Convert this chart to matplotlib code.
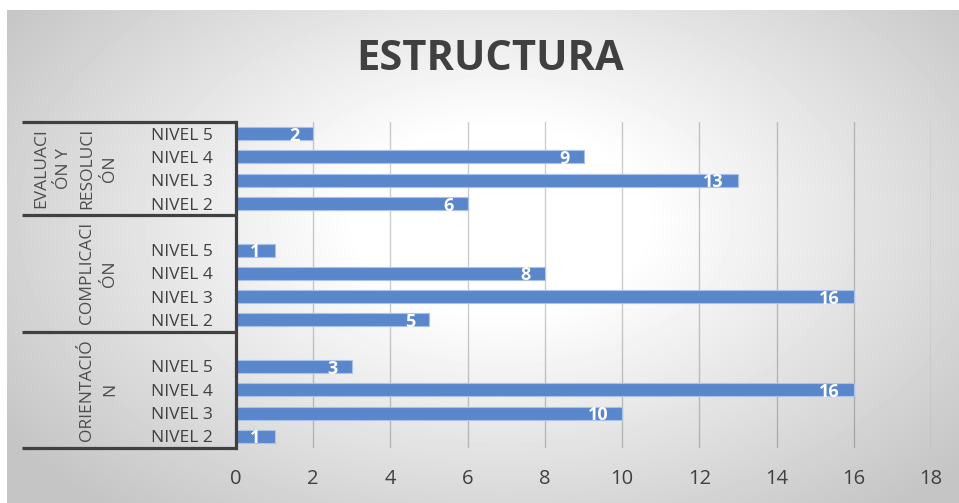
import numpy as np
import matplotlib
matplotlib.use("Agg")
import matplotlib.pyplot as plt
import matplotlib.transforms as mtransforms

plt.rcParams['font.family'] = ['Open Sans', 'DejaVu Sans']

# category rows from bottom to top, blank rows keep the gaps between groups
niveles = ["NIVEL 2", "NIVEL 3", "NIVEL 4", "NIVEL 5", "",
           "NIVEL 2", "NIVEL 3", "NIVEL 4", "NIVEL 5", "",
           "NIVEL 2", "NIVEL 3", "NIVEL 4", "NIVEL 5"]
orientacion = [1, 10, 16, 3]
complicacion = [5, 16, 8, 1]
evaluacion = [6, 13, 9, 2]
grupos = ["ORIENTACIÓ\nN", "COMPLICACI\nÓN", "EVALUACI\nÓN Y\nRESOLUCI\nÓN"]
grupo_filas = [(0, 5), (5, 10), (10, 14)]   # first row, row after last
xticks = [0, 2, 4, 6, 8, 10, 12, 14, 16, 18]

valores = orientacion + [None] + complicacion + [None] + evaluacion

W, H = 959, 503
fig = plt.figure(figsize=(W / 100, H / 100), dpi=100)
fig.patch.set_facecolor("white")

# radial grey background
bg = fig.add_axes([7 / W, 0, 1 - 7 / W, 1 - 10 / H])
bg.set_axis_off()
yy, xx = np.mgrid[10:H, 7:W]
r = np.sqrt(((xx - 500) / 480.0) ** 2 + ((yy - 220) / 300.0) ** 2)
dark = 58 * np.clip((r - 0.3) / 0.95, 0, 1)
shade = (255 - dark) / 255.0
bg.imshow(shade, cmap="gray", vmin=0, vmax=1, aspect="auto",
          extent=[0, 1, 0, 1], interpolation="bilinear")
bg.set_xlim(0, 1)
bg.set_ylim(0, 1)

ax = fig.add_axes([236 / W, 55 / H, (931 - 236) / W, 326 / H])
ax.patch.set_alpha(0)

filas = [i for i, v in enumerate(valores) if v is not None]
largos = [v for v in valores if v is not None]
ax.barh(filas, largos, height=0.56, color="#5a86cc",
        edgecolor="#a9c2ea", linewidth=0.8, zorder=3)

for y, v in zip(filas, largos):
    ax.annotate(str(v), xy=(v, y), xytext=(-10, -1.5), textcoords="offset points",
                ha="right", va="center", color="white", fontsize=13,
                fontweight="bold", zorder=4)

ax.set_xlim(0, 18)
ax.set_ylim(-0.5, len(niveles) - 0.5)
ax.set_xticks(xticks)
ax.set_xticklabels([str(t) for t in xticks])
ax.set_yticks(range(len(niveles)))
ax.set_yticklabels(niveles)
ax.tick_params(axis="x", length=0, pad=15, labelsize=14.5, labelcolor="#404040")
ax.tick_params(axis="y", length=0, pad=16.5, labelsize=12.5, labelcolor="#404040")
ax.xaxis.grid(True, color="black", alpha=0.2, linewidth=1, zorder=0)
ax.set_axisbelow(True)

for s in ["top", "right", "bottom"]:
    ax.spines[s].set_visible(False)
ax.spines["left"].set_color("#404040")
ax.spines["left"].set_linewidth(2.3)
ax.spines["left"].set_zorder(5)

# group separators and group names on the category axis
trans = mtransforms.blended_transform_factory(ax.transAxes, ax.transData)
x0 = (22 - 236) / (931 - 236)
bordes = [-0.5, 4.5, 9.5, len(niveles) - 0.5]
for b in bordes:
    ax.plot([x0, 0], [b, b], color="#404040", linewidth=2.3,
            transform=trans, clip_on=False, solid_capstyle="butt", zorder=5)

xg = (118 - 236) / (931 - 236)
for nombre, (a, b) in zip(grupos, grupo_filas):
    ax.text(xg, (a + b - 1) / 2, nombre, transform=trans, rotation=90,
            ha="right", va="center", multialignment="center",
            fontsize=12.5, color="#4d4d4d", linespacing=1.58)

fig.text(490 / W, 1 - 60 / H, "ESTRUCTURA", ha="center", va="center",
         fontsize=30, fontweight="bold", color="#404040")

fig.savefig("out.png", dpi=100)
